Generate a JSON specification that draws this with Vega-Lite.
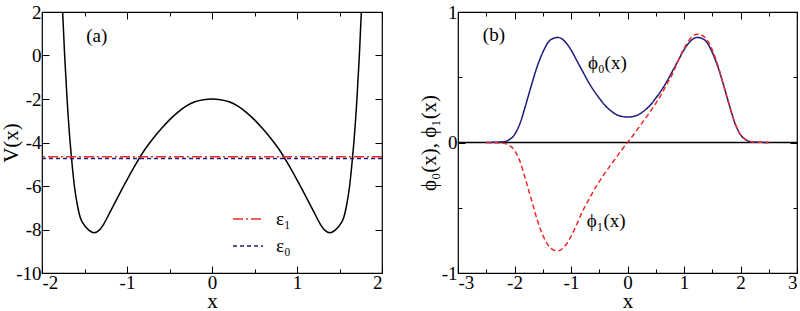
{
  "$schema": "https://vega.github.io/schema/vega-lite/v6.json",
  "padding": {"left": 0, "top": 2, "right": 0, "bottom": 0},
  "spacing": 76,
  "bounds": "flush",
  "resolve": {"scale": {"color": "independent", "strokeDash": "independent"}, "legend": {"color": "independent", "strokeDash": "independent"}},
  "datasets": {
    "V": [
      {"x": -1.757, "V": 2}, {"x": -1.7335, "V": 0}, {"x": -1.705, "V": -2}, {"x": -1.669, "V": -4},
      {"x": -1.653, "V": -4.7}, {"x": -1.619, "V": -6}, {"x": -1.578, "V": -7}, {"x": -1.55, "V": -7.45},
      {"x": -1.52, "V": -7.7}, {"x": -1.45, "V": -8.03}, {"x": -1.39, "V": -8.15}, {"x": -1.33, "V": -8.04},
      {"x": -1.275, "V": -7.76}, {"x": -1.2, "V": -7.2}, {"x": -1.1, "V": -6.45}, {"x": -1.0, "V": -5.72},
      {"x": -0.9, "V": -5.02}, {"x": -0.8, "V": -4.38}, {"x": -0.7, "V": -3.85}, {"x": -0.6, "V": -3.38},
      {"x": -0.5, "V": -2.96}, {"x": -0.4, "V": -2.6}, {"x": -0.3, "V": -2.32}, {"x": -0.2, "V": -2.13},
      {"x": -0.1, "V": -2.03}, {"x": 0, "V": -2},
      {"x": 0.1, "V": -2.03}, {"x": 0.2, "V": -2.13}, {"x": 0.3, "V": -2.32}, {"x": 0.4, "V": -2.6},
      {"x": 0.5, "V": -2.96}, {"x": 0.6, "V": -3.38}, {"x": 0.7, "V": -3.85}, {"x": 0.8, "V": -4.38},
      {"x": 0.9, "V": -5.02}, {"x": 1.0, "V": -5.72}, {"x": 1.1, "V": -6.45}, {"x": 1.2, "V": -7.2},
      {"x": 1.275, "V": -7.76}, {"x": 1.33, "V": -8.04}, {"x": 1.39, "V": -8.15}, {"x": 1.45, "V": -8.03},
      {"x": 1.52, "V": -7.7}, {"x": 1.55, "V": -7.45}, {"x": 1.578, "V": -7}, {"x": 1.619, "V": -6},
      {"x": 1.653, "V": -4.7}, {"x": 1.669, "V": -4}, {"x": 1.705, "V": -2}, {"x": 1.7335, "V": 0}, {"x": 1.757, "V": 2}
    ],
    "eps": [
      {"level": "ε₁", "E": -4.65},
      {"level": "ε₀", "E": -4.73}
    ],
    "phi": [
      {"s": "phi0", "x": -2.5, "p": 0}, {"s": "phi0", "x": -2.2, "p": 0.005}, {"s": "phi0", "x": -2.1, "p": 0.02},
      {"s": "phi0", "x": -2.0, "p": 0.06}, {"s": "phi0", "x": -1.9, "p": 0.15}, {"s": "phi0", "x": -1.8, "p": 0.29},
      {"s": "phi0", "x": -1.7, "p": 0.44}, {"s": "phi0", "x": -1.6, "p": 0.58}, {"s": "phi0", "x": -1.5, "p": 0.69},
      {"s": "phi0", "x": -1.4, "p": 0.77}, {"s": "phi0", "x": -1.3, "p": 0.8}, {"s": "phi0", "x": -1.23, "p": 0.805},
      {"s": "phi0", "x": -1.1, "p": 0.77}, {"s": "phi0", "x": -1.0, "p": 0.71}, {"s": "phi0", "x": -0.9, "p": 0.63},
      {"s": "phi0", "x": -0.8, "p": 0.55}, {"s": "phi0", "x": -0.7, "p": 0.47}, {"s": "phi0", "x": -0.6, "p": 0.4},
      {"s": "phi0", "x": -0.5, "p": 0.34}, {"s": "phi0", "x": -0.4, "p": 0.285}, {"s": "phi0", "x": -0.3, "p": 0.245},
      {"s": "phi0", "x": -0.2, "p": 0.215}, {"s": "phi0", "x": -0.1, "p": 0.2}, {"s": "phi0", "x": 0, "p": 0.195},
      {"s": "phi0", "x": 0.1, "p": 0.2}, {"s": "phi0", "x": 0.2, "p": 0.215}, {"s": "phi0", "x": 0.3, "p": 0.245},
      {"s": "phi0", "x": 0.4, "p": 0.285}, {"s": "phi0", "x": 0.5, "p": 0.34}, {"s": "phi0", "x": 0.6, "p": 0.4},
      {"s": "phi0", "x": 0.7, "p": 0.47}, {"s": "phi0", "x": 0.8, "p": 0.55}, {"s": "phi0", "x": 0.9, "p": 0.63},
      {"s": "phi0", "x": 1.0, "p": 0.71}, {"s": "phi0", "x": 1.1, "p": 0.77}, {"s": "phi0", "x": 1.23, "p": 0.805},
      {"s": "phi0", "x": 1.3, "p": 0.8}, {"s": "phi0", "x": 1.4, "p": 0.77}, {"s": "phi0", "x": 1.5, "p": 0.69},
      {"s": "phi0", "x": 1.6, "p": 0.58}, {"s": "phi0", "x": 1.7, "p": 0.44}, {"s": "phi0", "x": 1.8, "p": 0.29},
      {"s": "phi0", "x": 1.9, "p": 0.15}, {"s": "phi0", "x": 2.0, "p": 0.06}, {"s": "phi0", "x": 2.1, "p": 0.02},
      {"s": "phi0", "x": 2.2, "p": 0.005}, {"s": "phi0", "x": 2.5, "p": 0},
      {"s": "phi1", "x": -2.5, "p": 0}, {"s": "phi1", "x": -2.2, "p": -0.005}, {"s": "phi1", "x": -2.1, "p": -0.02},
      {"s": "phi1", "x": -2.0, "p": -0.06}, {"s": "phi1", "x": -1.9, "p": -0.15}, {"s": "phi1", "x": -1.8, "p": -0.29},
      {"s": "phi1", "x": -1.7, "p": -0.44}, {"s": "phi1", "x": -1.6, "p": -0.59}, {"s": "phi1", "x": -1.5, "p": -0.71},
      {"s": "phi1", "x": -1.4, "p": -0.79}, {"s": "phi1", "x": -1.3, "p": -0.825}, {"s": "phi1", "x": -1.23, "p": -0.83},
      {"s": "phi1", "x": -1.1, "p": -0.79}, {"s": "phi1", "x": -1.0, "p": -0.72}, {"s": "phi1", "x": -0.9, "p": -0.63},
      {"s": "phi1", "x": -0.8, "p": -0.53}, {"s": "phi1", "x": -0.7, "p": -0.45}, {"s": "phi1", "x": -0.6, "p": -0.37},
      {"s": "phi1", "x": -0.5, "p": -0.3}, {"s": "phi1", "x": -0.4, "p": -0.235}, {"s": "phi1", "x": -0.3, "p": -0.175},
      {"s": "phi1", "x": -0.2, "p": -0.115}, {"s": "phi1", "x": -0.1, "p": -0.055}, {"s": "phi1", "x": 0, "p": 0},
      {"s": "phi1", "x": 0.1, "p": 0.055}, {"s": "phi1", "x": 0.2, "p": 0.115}, {"s": "phi1", "x": 0.3, "p": 0.175},
      {"s": "phi1", "x": 0.4, "p": 0.235}, {"s": "phi1", "x": 0.5, "p": 0.3}, {"s": "phi1", "x": 0.6, "p": 0.37},
      {"s": "phi1", "x": 0.7, "p": 0.45}, {"s": "phi1", "x": 0.8, "p": 0.53}, {"s": "phi1", "x": 0.9, "p": 0.63},
      {"s": "phi1", "x": 1.0, "p": 0.72}, {"s": "phi1", "x": 1.1, "p": 0.79}, {"s": "phi1", "x": 1.23, "p": 0.83},
      {"s": "phi1", "x": 1.3, "p": 0.825}, {"s": "phi1", "x": 1.4, "p": 0.79}, {"s": "phi1", "x": 1.5, "p": 0.71},
      {"s": "phi1", "x": 1.6, "p": 0.59}, {"s": "phi1", "x": 1.7, "p": 0.44}, {"s": "phi1", "x": 1.8, "p": 0.29},
      {"s": "phi1", "x": 1.9, "p": 0.15}, {"s": "phi1", "x": 2.0, "p": 0.06}, {"s": "phi1", "x": 2.1, "p": 0.02},
      {"s": "phi1", "x": 2.2, "p": 0.005}, {"s": "phi1", "x": 2.5, "p": 0}
    ]
  },
  "hconcat": [
    {
      "width": 340,
      "height": 261,
      "resolve": {"axis": {"x": "independent", "y": "independent"}},
      "layer": [
        {
          "data": {"name": "V"},
          "mark": {"type": "line", "color": "black", "strokeWidth": 1.5, "interpolate": "monotone", "clip": true},
          "encoding": {
            "x": {"field": "x", "type": "quantitative", "scale": {"domain": [-2, 2], "nice": false},
              "axis": {"orient": "bottom", "title": "x", "values": [-2, -1.5, -1, -0.5, 0, 0.5, 1, 1.5, 2],
                "labelExpr": "datum.value % 1 === 0 ? '' + datum.value : ''",
                "tickSize": {"condition": {"test": "datum.value % 1 !== 0", "value": -4}, "value": -7},
                "labelPadding": 7, "titlePadding": -2}},
            "y": {"field": "V", "type": "quantitative", "scale": {"domain": [-10, 2], "nice": false},
              "axis": {"orient": "left", "title": "V(x)", "values": [-10, -8, -6, -4, -2, 0, 2],
                "labelExpr": "'' + datum.value", "tickSize": -7, "labelPadding": 8, "titlePadding": -6}}
          }
        },
        {
          "data": {"name": "V"},
          "mark": {"type": "line", "strokeOpacity": 0},
          "encoding": {
            "x": {"field": "x", "type": "quantitative",
              "axis": {"orient": "top", "title": null, "labels": false, "values": [-2, -1.5, -1, -0.5, 0, 0.5, 1, 1.5, 2],
                "tickSize": {"condition": {"test": "datum.value % 1 !== 0", "value": -4}, "value": -7}}},
            "y": {"field": "V", "type": "quantitative",
              "axis": {"orient": "right", "title": null, "labels": false, "values": [-10, -8, -6, -4, -2, 0, 2], "tickSize": -7}}
          }
        },
        {
          "data": {"name": "eps"},
          "mark": {"type": "rule", "strokeWidth": 1.5},
          "encoding": {
            "y": {"field": "E", "type": "quantitative", "axis": null},
            "color": {"field": "level", "type": "nominal",
              "scale": {"domain": ["ε₁", "ε₀"], "range": ["#ee2a2a", "#1c1c7c"]},
              "legend": {"orient": "none", "legendX": 190, "legendY": 191, "title": null, "symbolType": "stroke",
                "symbolSize": 900, "symbolStrokeWidth": 1.5, "labelFont": "Liberation Serif", "labelFontSize": 19,
                "labelOffset": 12, "rowPadding": 1, "padding": 0}},
            "strokeDash": {"field": "level", "type": "nominal",
              "scale": {"domain": ["ε₁", "ε₀"], "range": [[10, 3, 2, 3], [4, 3]]},
              "legend": {"orient": "none", "legendX": 190, "legendY": 191, "title": null, "symbolType": "stroke",
                "symbolSize": 900, "symbolStrokeWidth": 1.5, "labelFont": "Liberation Serif", "labelFontSize": 19,
                "labelOffset": 12, "rowPadding": 1, "padding": 0}}
          }
        },
        {
          "data": {"values": [{}]},
          "mark": {"type": "text", "font": "Liberation Serif", "fontSize": 19, "align": "left", "baseline": "middle"},
          "encoding": {
            "x": {"datum": -1.48, "type": "quantitative", "axis": null},
            "y": {"datum": 0.9, "type": "quantitative", "axis": null},
            "text": {"value": "(a)"}
          }
        }
      ]
    },
    {
      "width": 339,
      "height": 261,
      "resolve": {"axis": {"x": "independent", "y": "independent"}},
      "layer": [
        {
          "data": {"values": [{}]},
          "mark": {"type": "rule", "color": "black", "strokeWidth": 1.5},
          "encoding": {"y": {"datum": 0, "type": "quantitative", "axis": null}}
        },
        {
          "data": {"name": "phi"},
          "mark": {"type": "line", "strokeWidth": 1.5, "interpolate": "monotone"},
          "encoding": {
            "x": {"field": "x", "type": "quantitative", "scale": {"domain": [-3, 3], "nice": false},
              "axis": {"orient": "bottom", "title": "x", "values": [-3, -2.5, -2, -1.5, -1, -0.5, 0, 0.5, 1, 1.5, 2, 2.5, 3],
                "labelExpr": "datum.value % 1 === 0 ? '' + datum.value : ''",
                "tickSize": {"condition": {"test": "datum.value % 1 !== 0", "value": -4}, "value": -7},
                "labelPadding": 7, "titlePadding": -2}},
            "y": {"field": "p", "type": "quantitative", "scale": {"domain": [-1, 1], "nice": false},
              "axis": {"orient": "left", "title": "ϕ₀(x), ϕ₁(x)", "values": [-1, -0.5, 0, 0.5, 1],
                "labelExpr": "datum.value % 1 === 0 ? '' + datum.value : ''",
                "tickSize": {"condition": {"test": "datum.value % 1 !== 0", "value": -4}, "value": -7},
                "labelPadding": 8, "titlePadding": 2}},
            "color": {"field": "s", "type": "nominal", "scale": {"domain": ["phi0", "phi1"], "range": ["#1c1c7c", "#ee2a2a"]}, "legend": null},
            "strokeDash": {"field": "s", "type": "nominal", "scale": {"domain": ["phi0", "phi1"], "range": [[1, 0], [5, 3]]}, "legend": null}
          }
        },
        {
          "data": {"name": "phi"},
          "mark": {"type": "line", "strokeOpacity": 0},
          "encoding": {
            "x": {"field": "x", "type": "quantitative",
              "axis": {"orient": "top", "title": null, "labels": false, "values": [-3, -2.5, -2, -1.5, -1, -0.5, 0, 0.5, 1, 1.5, 2, 2.5, 3],
                "tickSize": {"condition": {"test": "datum.value % 1 !== 0", "value": -4}, "value": -7}}},
            "y": {"field": "p", "type": "quantitative",
              "axis": {"orient": "right", "title": null, "labels": false, "values": [-1, -0.5, 0, 0.5, 1],
                "tickSize": {"condition": {"test": "datum.value % 1 !== 0", "value": -4}, "value": -7}}}
          }
        },
        {
          "data": {"values": [{}]},
          "mark": {"type": "text", "font": "Liberation Serif", "fontSize": 19, "align": "left", "baseline": "middle"},
          "encoding": {
            "x": {"datum": -2.56, "type": "quantitative", "axis": null},
            "y": {"datum": 0.82, "type": "quantitative", "axis": null},
            "text": {"value": "(b)"}
          }
        },
        {
          "data": {"values": [{}]},
          "mark": {"type": "text", "font": "Liberation Serif", "fontSize": 19, "align": "left", "baseline": "middle"},
          "encoding": {
            "x": {"datum": -0.7, "type": "quantitative", "axis": null},
            "y": {"datum": 0.61, "type": "quantitative", "axis": null},
            "text": {"value": "ϕ₀(x)"}
          }
        },
        {
          "data": {"values": [{}]},
          "mark": {"type": "text", "font": "Liberation Serif", "fontSize": 19, "align": "left", "baseline": "middle"},
          "encoding": {
            "x": {"datum": -0.72, "type": "quantitative", "axis": null},
            "y": {"datum": -0.6, "type": "quantitative", "axis": null},
            "text": {"value": "ϕ₁(x)"}
          }
        }
      ]
    }
  ],
  "config": {
    "view": {"stroke": "black", "strokeWidth": 1.2},
    "axis": {
      "domain": false, "grid": false, "tickColor": "black", "tickWidth": 1,
      "labelFont": "Liberation Serif", "labelFontSize": 19, "labelColor": "black",
      "titleFont": "Liberation Serif", "titleFontSize": 21, "titleFontWeight": "normal", "titleColor": "black",
      "titlePadding": 2
    }
  }
}
